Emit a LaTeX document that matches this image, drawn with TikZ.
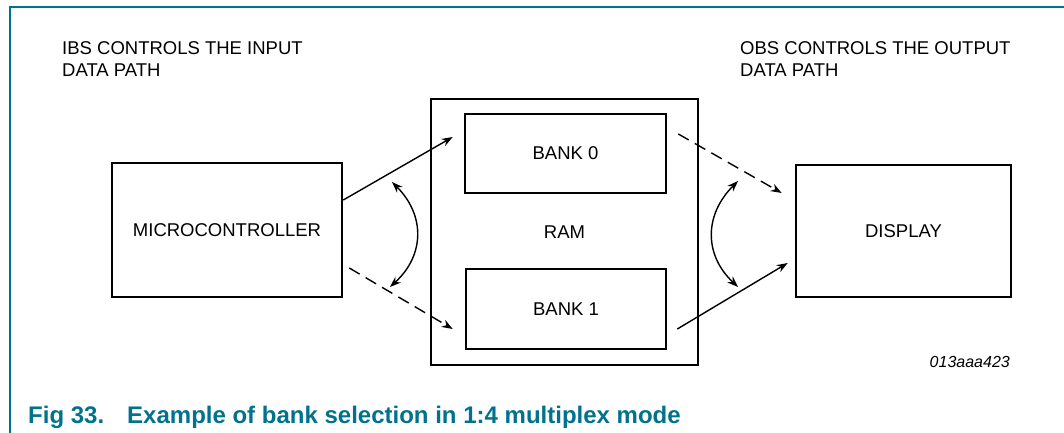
\documentclass[tikz,border=0pt]{standalone}
\usepackage{fontspec}
\setmainfont{Liberation Sans}
\usetikzlibrary{arrows.meta}
\definecolor{nxpteal}{RGB}{0,114,140}

\begin{document}
\begin{tikzpicture}[x=1pt, y=-1pt,
    font=\fontsize{18.5}{22}\selectfont,
    box/.style={draw, line width=2.6pt, inner sep=0pt},
    link/.style={line width=1.4pt, -{Stealth[length=11pt, width=8pt]}},
    dashlink/.style={link, dash pattern=on 12pt off 7pt},
    swap/.style={line width=1.4pt, {Stealth[length=11pt, width=8pt]}-{Stealth[length=11pt, width=8pt]}}]

    % 1. Рамка рисунка и поля
    \useasboundingbox (0,0) rectangle (1064,433);
    \draw[nxpteal, line width=1.3pt] (10,433) -- (10,7) -- (1064,7);

    % 2. Подписи сверху
    \node[anchor=west, align=left, inner sep=0pt] (ibs) at (62,59)
        {IBS CONTROLS THE INPUT\\DATA PATH};
    \node[anchor=west, align=left, inner sep=0pt] (obs) at (740,59)
        {OBS CONTROLS THE OUTPUT\\DATA PATH};

    % 3. Блоки: микроконтроллер, ОЗУ с двумя банками, дисплей
    \node[box, minimum width=230pt, minimum height=134pt] (mc) at (227,230)
        {MICROCONTROLLER};
    \node[box, minimum width=267pt, minimum height=266pt] (ram) at (564.5,232)
        {RAM};
    \node[box, minimum width=201pt, minimum height=79pt] (bank0) at (565.5,153.5)
        {BANK 0};
    \node[box, minimum width=200pt, minimum height=80pt] (bank1) at (566,309)
        {BANK 1};
    \node[box, minimum width=215pt, minimum height=132pt] (disp) at (903.5,231)
        {DISPLAY};

    % 4. Пути данных (сплошные и пунктирные)
    \draw[link] ([yshift=30pt]mc.east) -- ([xshift=-11pt, yshift=16.5pt]bank0.west);
    \draw[dashlink] ([xshift=6pt, yshift=-38pt]mc.east) -- ([xshift=-12pt, yshift=-20pt]bank1.west);
    \draw[dashlink] ([xshift=11pt, yshift=19.5pt]bank0.east) -- ([xshift=-13pt, yshift=38pt]disp.west);
    \draw[link] ([xshift=10pt, yshift=-20pt]bank1.east) -- ([xshift=-7pt, yshift=-32pt]disp.west);

    % 5. Двойные дуги (переключение банков)
    \coordinate (ibstop) at (392,182);
    \coordinate (ibsbot) at (390,287);
    \coordinate (obstop) at (738,181);
    \coordinate (obsbot) at (738,287);
    \draw[swap] (ibstop) .. controls (425,215) and (425,255) .. (ibsbot);
    \draw[swap] (obstop) .. controls (704,215) and (704,255) .. (obsbot);

    % 6. Номер рисунка и подпись
    \node[anchor=east, inner sep=0pt, font=\fontsize{16}{19}\selectfont\itshape] (code) at (1010,362)
        {013aaa423};
    \node[anchor=base west, inner sep=0pt, text=nxpteal, font=\fontsize{24}{28}\selectfont\bfseries] (caption) at (28,423)
        {Fig 33.\hspace{23pt}Example of bank selection in 1:4 multiplex mode};

\end{tikzpicture}
\end{document}
